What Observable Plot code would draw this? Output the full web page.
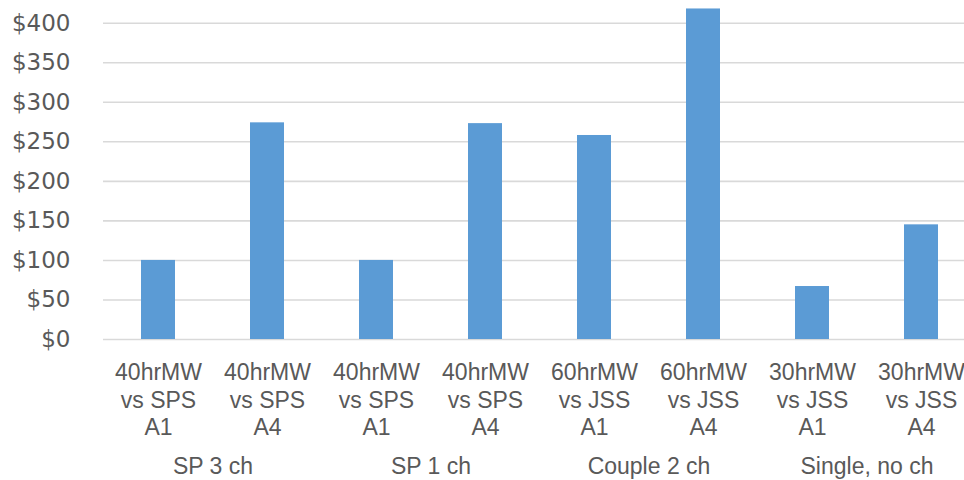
<!DOCTYPE html>
<html>
<head>
<meta charset="utf-8">
<script src="https://cdn.jsdelivr.net/npm/d3@7"></script>
<script src="https://cdn.jsdelivr.net/npm/@observablehq/plot@0.6"></script>
<style>
  html, body { margin: 0; padding: 0; background: #fff; overflow: hidden; }
</style>
</head>
<body>
<div id="chart"></div>
<script>
const groups = ["SP 3 ch", "SP 3 ch", "SP 1 ch", "SP 1 ch", "Couple 2 ch", "Couple 2 ch", "Single, no ch", "Single, no ch"];
const labels = [
  "40hrMW\nvs SPS\nA1", "40hrMW\nvs SPS\nA4",
  "40hrMW\nvs SPS\nA1", "40hrMW\nvs SPS\nA4",
  "60hrMW\nvs JSS\nA1", "60hrMW\nvs JSS\nA4",
  "30hrMW\nvs JSS\nA1", "30hrMW\nvs JSS\nA4"
];
const values = [100, 274, 100, 273, 258, 418, 67, 145];
const yTicks = [0, 50, 100, 150, 200, 250, 300, 350, 400];

const data = values.map((v, i) => ({id: i, label: labels[i], group: groups[i], value: v}));
const groupLabels = data.filter((d, i) => i % 2 === 0);

const chart = Plot.plot({
  width: 964,
  height: 480,
  marginLeft: 103,
  marginRight: 0,
  marginTop: 0,
  marginBottom: 141,
  style: {fontFamily: "'Liberation Sans', Arial, sans-serif", color: "#595959", background: "#fff"},
  x: {domain: d3.range(values.length), range: [103, 975], paddingInner: 0.69, paddingOuter: 0.345, label: null},
  y: {domain: [0, 400], range: [339, 22.7], label: null},
  marks: [
    Plot.gridY(yTicks, {stroke: "#D9D9D9", strokeOpacity: 1, strokeWidth: 1.6}),
    Plot.barY(data, {x: "id", y: "value", fill: "#5B9BD5"}),
    Plot.axisY(yTicks, {
      tickSize: 0, tickPadding: 33, tickFormat: d => "$" + d, label: null,
      fontSize: 23, fontFamily: "'DejaVu Sans', Verdana, sans-serif", fill: "#595959"
    }),
    Plot.axisX({
      tickSize: 0, tickPadding: 21, tickFormat: i => labels[i], label: null,
      fontSize: 23, lineHeight: 1.2, fill: "#595959"
    }),
    Plot.text(groupLabels, {
      x: "id", text: "group", frameAnchor: "bottom", lineAnchor: "top",
      dx: 54.5, dy: 118, fontSize: 23, fill: "#595959"
    })
  ]
});
document.getElementById("chart").appendChild(chart);
</script>
</body>
</html>
